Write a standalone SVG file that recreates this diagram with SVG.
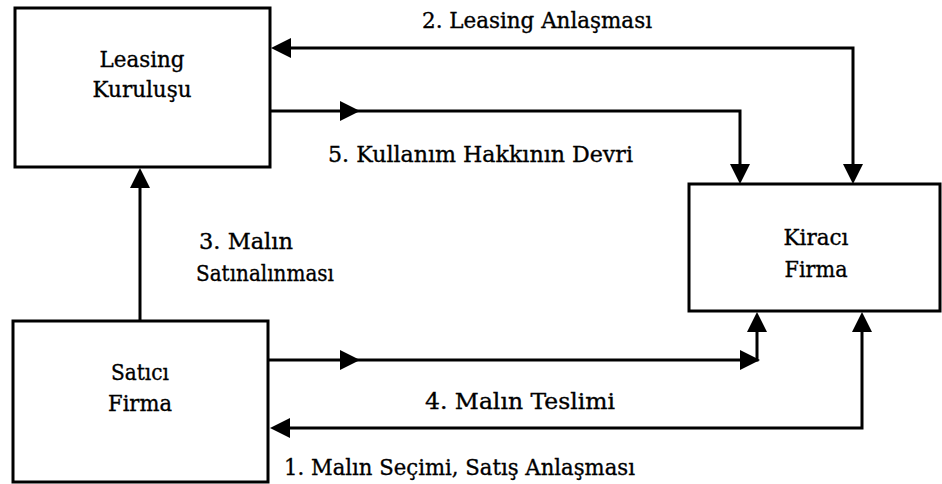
<svg xmlns="http://www.w3.org/2000/svg" xmlns:xlink="http://www.w3.org/1999/xlink" width="942" height="484" viewBox="0 0 942 484">
<style>
.box{fill:#fff;stroke:#000;stroke-width:3}
.ln{fill:none;stroke:#000;stroke-width:3;stroke-linejoin:miter}
text{font-family:"DejaVu Serif","Liberation Serif",serif;font-size:22px;fill:#000;stroke:#000;stroke-width:0.35}
.c{text-anchor:middle}
</style>
<defs>
<path id="ah" d="M0,0 L-20,-10 L-20,10 Z" fill="#000"/>
</defs>
<rect width="942" height="484" fill="#fff"/>
<g id="leasing-kurulusu">
<rect class="box" x="15" y="8" width="255" height="159"/>
<text class="c" x="142" y="67" textLength="85" lengthAdjust="spacingAndGlyphs">Leasing</text>
<text class="c" x="142" y="97" textLength="99" lengthAdjust="spacingAndGlyphs">Kuruluşu</text>
</g>
<g id="kiraci-firma">
<rect class="box" x="689" y="184" width="251" height="127"/>
<text class="c" x="816" y="245" textLength="65" lengthAdjust="spacingAndGlyphs">Kiracı</text>
<text class="c" x="816" y="277" textLength="63" lengthAdjust="spacingAndGlyphs">Firma</text>
</g>
<g id="satici-firma">
<rect class="box" x="13" y="321" width="255" height="161"/>
<text class="c" x="140" y="380" textLength="58" lengthAdjust="spacingAndGlyphs">Satıcı</text>
<text class="c" x="140" y="411" textLength="64" lengthAdjust="spacingAndGlyphs">Firma</text>
</g>
<g id="connectors">
<polyline class="ln" points="285,48 853,48 853,168"/>
<use xlink:href="#ah" transform="translate(271,48) rotate(180)"/>
<use xlink:href="#ah" transform="translate(853,184) rotate(90)"/>
<text x="422" y="28" textLength="230" lengthAdjust="spacingAndGlyphs">2. Leasing Anlaşması</text>
<polyline class="ln" points="270,111 740,111 740,168"/>
<use xlink:href="#ah" transform="translate(360,111)"/>
<use xlink:href="#ah" transform="translate(740,184) rotate(90)"/>
<text x="328" y="162" textLength="305" lengthAdjust="spacingAndGlyphs">5. Kullanım Hakkının Devri</text>
<line class="ln" x1="140" y1="321" x2="140" y2="185"/>
<use xlink:href="#ah" transform="translate(140,168) rotate(-90)"/>
<text x="199" y="249" textLength="94" lengthAdjust="spacingAndGlyphs">3. Malın</text>
<text x="196" y="281" textLength="138" lengthAdjust="spacingAndGlyphs">Satınalınması</text>
<polyline class="ln" points="268,360 757,360 757,328"/>
<use xlink:href="#ah" transform="translate(360,360)"/>
<use xlink:href="#ah" transform="translate(760,360)"/>
<use xlink:href="#ah" transform="translate(757,312) rotate(-90)"/>
<text x="425" y="409" textLength="190" lengthAdjust="spacingAndGlyphs">4. Malın Teslimi</text>
<polyline class="ln" points="285,428 862,428 862,328"/>
<use xlink:href="#ah" transform="translate(270,428) rotate(180)"/>
<use xlink:href="#ah" transform="translate(862,312) rotate(-90)"/>
<text x="284" y="475" textLength="351" lengthAdjust="spacingAndGlyphs">1. Malın Seçimi, Satış Anlaşması</text>
</g>
</svg>
